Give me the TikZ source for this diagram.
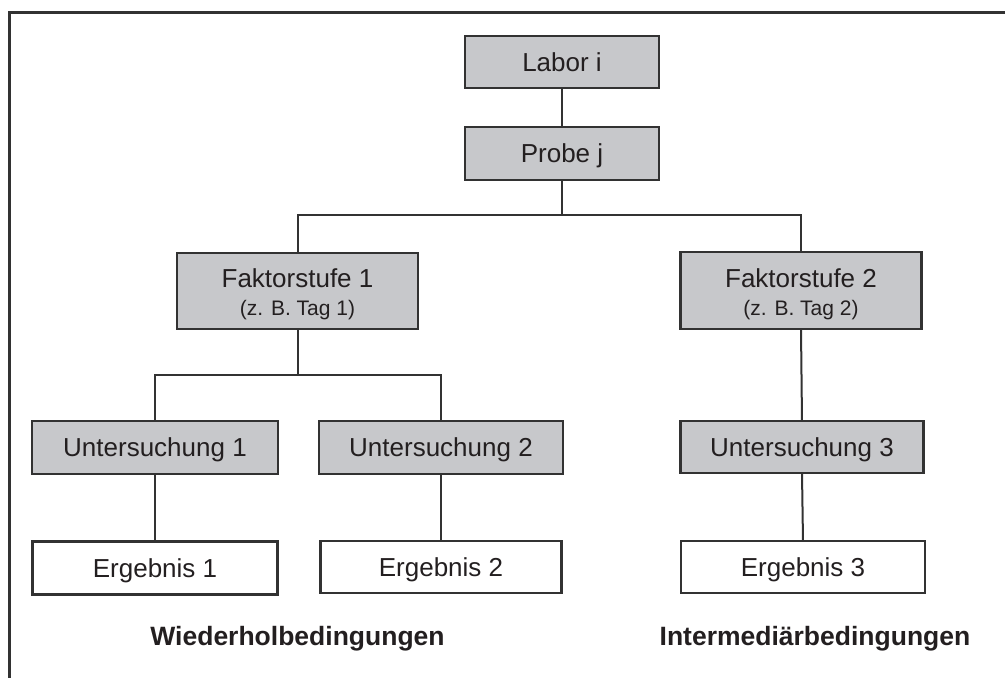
\documentclass[tikz,border=0pt]{standalone}
\usepackage{fontspec}
\setmainfont{Liberation Sans}
\definecolor{boxgray}{RGB}{199,200,203}
\definecolor{linegray}{RGB}{50,50,50}
\definecolor{txt}{RGB}{35,31,32}
\begin{document}
\begin{tikzpicture}[x=1pt,y=-1pt,
  every node/.style={inner sep=0pt,outer sep=0pt,text=txt},
  graybox/.style={draw=linegray,line width=2.4pt,fill=boxgray,minimum width=#1,
    text height=18.6pt,text depth=0pt,font=\fontsize{26}{30}\selectfont},
  whitebox/.style={draw=linegray,line width=2.4pt,fill=white,minimum width=#1,
    text height=18.6pt,text depth=0pt,font=\fontsize{26}{30}\selectfont},
  conn/.style={draw=linegray,line width=2pt},
  main/.style={anchor=base,font=\fontsize{26}{30}\selectfont},
  sub/.style={anchor=base,font=\fontsize{21}{25}\selectfont},
  foot/.style={anchor=base,font=\fontsize{26.5}{30}\selectfont\bfseries}]
\useasboundingbox (0,0) rectangle (1005,678);
% frame
\draw[draw=linegray,line width=2.6pt] (1006,12.5) -- (9.5,12.5) -- (9.5,679);
% top
\node[graybox=194pt,minimum height=52pt] (labor) at (562,62) {Labor i};
\node[graybox=194pt,minimum height=53pt] (probe) at (562,153.5) {Probe j};
% factor levels
\node[graybox=241pt,minimum height=76pt] (f1) at (297.5,291) {};
\node[main] (f1a) at (297.5,287) {Faktorstufe 1};
\node[sub] (f1b) at (297.5,315) {(z. B. Tag 1)};
\node[graybox=241pt,minimum height=77pt] (f2) at (801,290.5) {};
\node[main] (f2a) at (801,287) {Faktorstufe 2};
\node[sub] (f2b) at (801,315) {(z. B. Tag 2)};
% investigations
\node[graybox=246pt,minimum height=53pt] (u1) at (155,447.5) {Untersuchung 1};
\node[graybox=244pt,minimum height=53pt] (u2) at (441,447.5) {Untersuchung 2};
\node[graybox=243pt,minimum height=52pt] (u3) at (802,447) {Untersuchung 3};
% results
\node[whitebox=245pt,minimum height=53pt] (e1) at (155,568) {Ergebnis 1};
\node[whitebox=241pt,minimum height=52pt] (e2) at (441,567) {Ergebnis 2};
\node[whitebox=244pt,minimum height=52pt] (e3) at (803,567) {Ergebnis 3};
% footer labels
\node[foot] (wb) at (297.5,645) {Wiederholbedingungen};
\node[foot] (ib) at (815,645) {Intermediärbedingungen};
% connectors
\coordinate (j1) at (562,215);
\coordinate (j2) at (297.5,375);
\draw[conn] (labor.south) -- (probe.north);
\draw[conn] (probe.south) -- (j1);
\draw[conn] (f1.north) |- (j1) -| (f2.north);
\draw[conn] (f1.south) -- (j2);
\draw[conn] (u1.north) |- (j2) -| (u2.north);
\draw[conn] (f2.south) -- (u3.north);
\draw[conn] (u1.south) -- (e1.north);
\draw[conn] (u2.south) -- (e2.north);
\draw[conn] (u3.south) -- (e3.north);
\end{tikzpicture}
\end{document}
